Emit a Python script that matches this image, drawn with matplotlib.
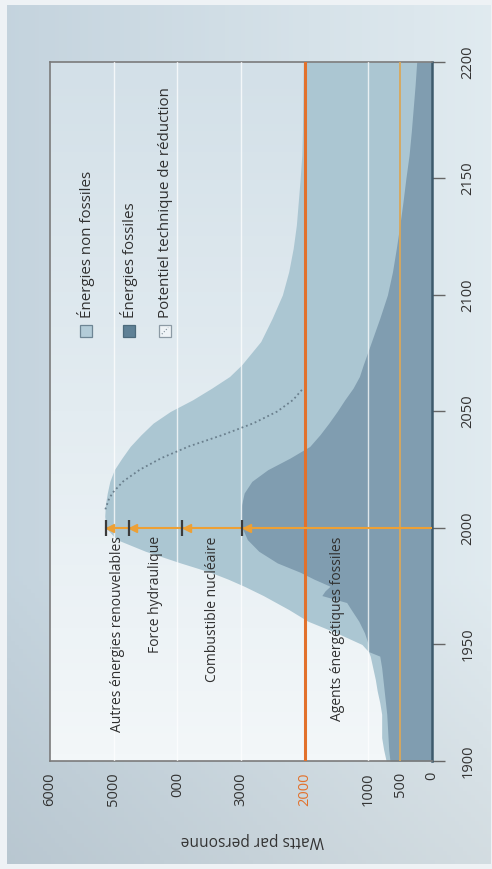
import matplotlib.pyplot as plt
import numpy as np
from matplotlib.colors import LinearSegmentedColormap
from matplotlib.patches import Rectangle

plt.rcParams['font.family'] = ['Open Sans', 'DejaVu Sans']

# data (watts per person)
years = [1900, 1905, 1910, 1915, 1920, 1925, 1930, 1935, 1940, 1945, 1947, 1950,
         1955, 1960, 1965, 1968, 1971, 1973, 1975, 1978, 1981, 1985, 1990, 1995,
         2000, 2005, 2010, 2015, 2020, 2025, 2030, 2035, 2040, 2045, 2050, 2055,
         2060, 2065, 2070, 2080, 2090, 2100, 2110, 2120, 2130, 2140, 2150, 2160,
         2170, 2180, 2190, 2200]
fossil = [660, 680, 690, 700, 710, 730, 750, 770, 790, 820, 1000, 1000,
          1060, 1150, 1270, 1340, 1730, 1680, 1600, 1850, 2070, 2430, 2720, 2900,
          2980, 3000, 2990, 2950, 2830, 2580, 2230, 1920, 1760, 1620, 1490, 1370,
          1240, 1140, 1080, 950, 820, 700, 620, 560, 505, 455, 410, 360,
          325, 295, 265, 240]
total = [720, 760, 790, 790, 790, 820, 860, 890, 930, 970, 1000, 1100,
         1500, 1950, 2250, 2450, 2650, 2800, 2950, 3200, 3480, 3950, 4500, 4950,
         5120, 5140, 5130, 5100, 5060, 4990, 4870, 4740, 4570, 4380, 4110, 3760,
         3460, 3180, 2990, 2690, 2510, 2350, 2250, 2180, 2130, 2100, 2070, 2045,
         2035, 2030, 2025, 2020]

reduction_years = [2008, 2012, 2015, 2020, 2025, 2030, 2035, 2040, 2045, 2050, 2055, 2060]
reduction = [5130, 5080, 5020, 4850, 4590, 4250, 3820, 3280, 2800, 2430, 2180, 2020]

stack_names = ['Agents énergétiques fossiles', 'Combustible nucléaire',
               'Force hydraulique', 'Autres énergies renouvelables']
stack_2000 = [2980, 3920, 4760, 5120]

watt_ticks = [0, 500, 1000, 2000, 3000, 4000, 5000, 6000]
watt_labels = ['0', '500', '1000', '2000', '3000', '000', '5000', '6000']
year_ticks = [1900, 1950, 2000, 2050, 2100, 2150, 2200]
legend_names = ['Énergies non fossiles', 'Énergies fossiles', 'Potentiel technique de réduction']

light = '#abc6d2'
dark = '#809db0'
orange = '#e2712c'
arrow_col = '#eda035'
txt = '#303030'

fig = plt.figure(figsize=(4.92, 8.69), dpi=100)
fig.patch.set_facecolor('#eef2f5')

# panel backdrop gradient
bg = fig.add_axes([0.014, 0.006, 0.982, 0.988])
nx, ny = 120, 200
t = np.linspace(0, 1, nx)[None, :, None]
s = np.linspace(0, 1, ny)[:, None, None]
c_left = np.array([0.77, 0.83, 0.87])
c_right = np.array([0.88, 0.92, 0.94])
img = c_left * (1 - t) + c_right * t
img = img * (0.94 + 0.06 * np.clip(s * 3, 0, 1))
bg.imshow(np.clip(img, 0, 1), aspect='auto', extent=(0, 1, 0, 1), origin='lower')
bg.axis('off')

ax = fig.add_axes([0.1016, 0.1243, 0.7764, 0.8044])
inner = LinearSegmentedColormap.from_list('inner', ['#f3f7f9', '#e3ecf1', '#d3e0e8'])
ax.imshow(np.linspace(0, 1, 100)[:, None], cmap=inner, aspect='auto',
          extent=(6000, 0, 1900, 2200), origin='lower', zorder=0)

ax.fill_betweenx(years, 0, total, color=light, lw=0, zorder=1)
ax.fill_betweenx(years, 0, fossil, color=dark, lw=0, zorder=2)

for w in [1000, 3000, 4000, 5000]:
    ax.axvline(w, color='white', lw=1, alpha=0.75, zorder=3)
ax.axvline(500, color='#d9a75a', lw=1.3, zorder=4)
ax.axvline(2000, color=orange, lw=2.2, zorder=5)

ax.plot(reduction, reduction_years, ls=(0, (1, 1.6)), color='#6a7f8d', lw=1.3, zorder=4)

# breakdown arrows at year 2000
ax.plot([0, stack_2000[-1]], [2000, 2000], color=arrow_col, lw=1.5, zorder=6)
ax.plot(np.array(stack_2000) - 70, [2000] * 4, marker='<', ls='none', ms=6,
        color=arrow_col, zorder=7)
ax.plot(stack_2000, [2000] * 4, marker='|', ls='none', ms=11, mew=1.6,
        color='#3b3b3b', zorder=8)
lows = [0] + stack_2000[:-1]
for name, lo, hi in zip(stack_names, lows, stack_2000):
    ax.text((lo + hi) / 2, 1996.5, name, rotation=90, ha='center', va='top',
            fontsize=10, color=txt, zorder=9)

# legend drawn by hand (rotated)
leg_x = [5434, 4759, 4193]
leg_face = ['#b3ccd8', '#5f8196', '#eef3f6']
leg_edge = ['#6d8594', '#4c6a7c', '#8c9aa4']
for x, name, fc, ec in zip(leg_x, legend_names, leg_face, leg_edge):
    ax.add_patch(Rectangle((x - 95, 2081.9), 190, 5.2, facecolor=fc, edgecolor=ec,
                           lw=0.9, zorder=9))
    ax.text(x, 2090.3, name, rotation=90, ha='center', va='bottom', fontsize=10.9,
            color=txt, zorder=9)
ax.plot([leg_x[2] + 50, leg_x[2] - 50], [2083.2, 2086.0], ls=':', lw=0.8,
        color='#7d8c96', zorder=10)

ax.set_xlim(6000, 0)
ax.set_ylim(1900, 2200)

ax.set_xticks(watt_ticks)
ax.set_xticklabels(watt_labels, rotation=90, fontsize=10.5, color='#333333')
ax.tick_params(axis='x', length=0, pad=8)
ax.get_xticklabels()[3].set_color(orange)

ax.yaxis.tick_right()
ax.set_yticks(year_ticks)
ax.set_yticklabels([str(y) for y in year_ticks], rotation=90, va='center',
                   fontsize=10.5, color='#333333')
ax.tick_params(axis='y', length=9.4, width=1, color='#666666', pad=11)

for side in ['left', 'top', 'bottom']:
    ax.spines[side].set_color('#7b7b7b')
    ax.spines[side].set_linewidth(1.2)
ax.spines['right'].set_color('#3d5a6c')
ax.spines['right'].set_linewidth(1.8)

fig.text(0.512, 0.0334, 'Watts par personne', rotation=180, ha='center', va='center',
         fontsize=11.2, color='#333333')

fig.savefig('out.png', dpi=100)
